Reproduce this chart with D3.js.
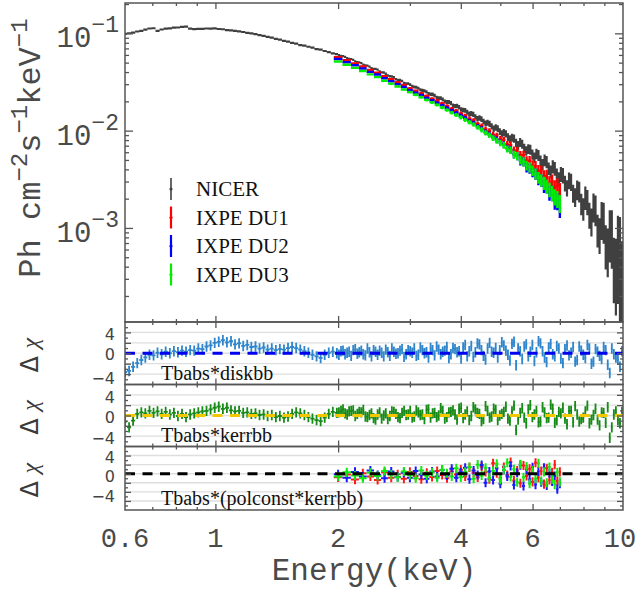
<!DOCTYPE html>
<meta charset="utf-8">
<style>
    body { margin: 0; background: #fff; }
    .frame { fill: none; stroke: #555; stroke-width: 1.5px; }
    .tick line { stroke: #555; stroke-width: 1.3px; }
    .mono { font-family: "Liberation Mono", "DejaVu Sans Mono", monospace; fill: #4a4a4a; }
    .serif { font-family: "Liberation Serif", "DejaVu Serif", serif; fill: #111; }
    .rlab { font-family: "DejaVu Sans", "Liberation Sans", sans-serif; fill: #444; font-size: 16px; }
    .grid { stroke: #dedede; stroke-width: 1.4px; }
</style>
<svg id="svg" width="642" height="589"></svg>

<script src="https://d3js.org/d3.v7.min.js"></script>
<script>

// ---- data ----
// NICER, coarse grid over the full band
var nicerE = [0.600,0.614,0.628,0.643,0.658,0.673,0.689,0.705,0.721,0.738,
    0.755,0.773,0.791,0.809,0.828,0.847,0.867,0.887,0.908,0.929,
    0.951,0.973,0.996,1.019,1.043,1.067,1.092,1.117,1.143,1.170,
    1.197,1.225,1.254,1.283,1.313,1.343,1.375,1.407,1.439,1.473,
    1.507,1.542,1.578,1.615,1.653,1.691,1.730,1.771,1.812,1.854,
    1.897,1.941,1.986,2.033,2.080,2.128,2.178,2.229,2.280,2.333,
    2.388,2.443,2.500,2.558,2.618,2.679,2.741,2.805,2.870,2.937,
    3.005,3.075,3.147,3.220,3.295,3.372,3.450,3.530,3.612,3.697,
    3.783,3.871,3.961,4.053,4.147,4.244,4.343,4.444,4.547,4.653,
    4.761,4.872,4.985,5.101,5.220,5.341,5.466,5.593,5.723,5.856,
    5.993,6.132,6.275,6.421,6.571,6.724,6.880,7.040,7.204,7.372,
    7.544,7.719,7.899,8.083,8.271,8.464,8.661,8.862,9.069,9.280,
    9.496,9.717,9.943];

var nicerFlux = [0.0985,0.1002,0.1018,0.1045,0.1058,0.1092,0.1121,0.1128,0.1062,0.1095,
    0.1118,0.1127,0.1142,0.1148,0.1163,0.1172,0.1118,0.1106,0.1112,0.1109,
    0.1121,0.1117,0.1123,0.1108,0.1102,0.1079,0.1072,0.1058,0.1047,0.1032,
    0.1011,0.0998,0.0982,0.0958,0.0943,0.0918,0.0902,0.0878,0.0863,0.0838,
    0.0822,0.0797,0.0784,0.0758,0.0749,0.0728,0.0712,0.0688,0.0681,0.0658,
    0.0642,0.0622,0.0612,0.0588,0.0573,0.0547,0.0534,0.0506,0.0493,0.0468,
    0.0455,0.0432,0.0423,0.0398,0.0384,0.0362,0.0353,0.0331,0.0324,0.0304,
    0.0297,0.0281,0.0273,0.0259,0.0250,0.0237,0.0230,0.0216,0.0210,0.0197,
    0.0192,0.0179,0.0174,0.0163,0.0155,0.0150,0.0139,0.0135,0.0124,0.0121,
    0.0111,0.0108,0.0098,0.0096,0.0086,0.0085,0.0075,0.0076,0.0066,0.0065,
    0.0057,0.0058,0.0049,0.0050,0.0041,0.0043,0.0035,0.0036,0.0029,0.0031,
    0.0023,0.0025,0.0018,0.0021,0.0014,0.0017,0.0010,0.0013,0.00072,0.00098,
    0.00048,0.00075,0.00038];

// fractional 1-sigma errors
var nicerErr = [0.014,0.013,0.012,0.012,0.011,0.011,0.011,0.011,0.011,0.011,
    0.011,0.011,0.011,0.011,0.011,0.011,0.011,0.011,0.011,0.011,
    0.011,0.011,0.011,0.011,0.012,0.012,0.012,0.012,0.012,0.012,
    0.012,0.012,0.013,0.013,0.013,0.013,0.013,0.014,0.014,0.014,
    0.014,0.015,0.015,0.015,0.016,0.016,0.016,0.017,0.017,0.018,
    0.018,0.019,0.019,0.020,0.020,0.021,0.022,0.022,0.023,0.024,
    0.025,0.025,0.026,0.027,0.028,0.029,0.030,0.031,0.032,0.033,
    0.034,0.035,0.037,0.038,0.039,0.041,0.042,0.044,0.046,0.048,
    0.050,0.052,0.054,0.056,0.058,0.061,0.063,0.066,0.069,0.072,
    0.075,0.078,0.082,0.086,0.090,0.094,0.099,0.104,0.109,0.114,
    0.120,0.126,0.133,0.140,0.148,0.156,0.165,0.175,0.185,0.196,
    0.21,0.23,0.25,0.27,0.30,0.33,0.37,0.42,0.48,0.55,
    0.65,0.78,0.92];

// residuals (delta chi) for NICER, Tbabs*diskbb
var diskbbRes = [-3.6,-3.4,-2.6,-1.9,-1.3,-0.8,-0.3,-0.4,0.1,-0.2,
    0.3,0.0,0.4,0.2,0.5,0.3,0.6,0.5,0.9,0.8,
    1.3,1.5,2.0,2.2,2.5,2.1,2.3,1.7,1.9,1.4,
    1.6,1.2,1.3,0.9,1.1,0.7,0.9,0.6,0.8,0.7,
    1.0,1.2,1.0,0.7,0.4,0.1,-0.3,-0.6,-0.9,-0.3,
    0.1,0.3,0.0,0.4,-0.2,0.3,0.6,-0.1,0.5,-0.4,
    0.2,0.6,-0.3,0.1,0.7,-0.5,0.3,0.0,0.8,-0.2,
    0.4,0.9,-0.3,0.6,0.2,1.0,-0.4,0.7,0.3,1.2,
    -0.2,0.8,0.4,1.1,-0.6,1.4,0.2,1.7,-0.5,0.9,
    0.3,1.0,0.6,1.5,-0.3,1.8,-2.3,0.4,1.3,-0.6,
    1.6,0.2,1.9,-0.8,1.1,-0.2,1.4,-1.0,0.8,-0.4,
    1.2,-1.3,0.5,-0.9,0.9,-1.6,0.3,-1.1,0.6,-3.8,
    -0.2,-1.2,0.4];

// residuals for NICER, Tbabs*kerrbb
var kerrbbRes = [-1.2,-2.3,-1.0,0.3,0.6,0.4,0.9,0.5,0.8,0.3,
    0.7,0.2,0.5,-0.1,0.3,-0.3,0.2,0.4,0.6,0.8,
    0.9,1.2,1.5,1.7,1.3,1.5,1.0,0.8,0.9,0.5,
    0.6,0.3,0.4,0.1,0.2,-0.1,0.1,-0.3,-0.1,-0.4,
    -0.2,0.3,0.6,0.4,0.1,-0.3,-0.6,-0.9,-1.1,-0.4,
    0.3,0.7,0.5,0.9,0.4,0.8,1.0,0.3,0.6,-0.2,
    0.1,-0.5,0.2,-0.6,0.4,-0.1,0.7,-0.3,0.5,0.1,
    0.9,-0.2,0.6,0.2,1.1,-0.4,0.5,0.0,0.9,-0.3,
    0.7,0.2,1.3,-0.5,0.8,-0.1,1.2,0.3,-0.7,0.9,
    -0.2,1.1,0.0,0.7,-0.6,0.8,-2.8,0.5,-0.4,1.2,
    -0.3,0.9,-1.2,0.6,-0.4,1.3,-0.9,0.4,-0.6,0.9,
    -1.3,0.2,-0.7,0.8,-1.5,0.1,-0.8,0.6,-1.4,-4.3,
    0.2,-0.9,0.7];

// NICER, extra bins in between above 2 keV
var nicerE2 = [2.009,2.056,2.104,2.153,2.203,2.254,2.306,2.360,2.415,2.471,
    2.529,2.588,2.648,2.710,2.773,2.837,2.903,2.971,3.040,3.111,
    3.183,3.257,3.333,3.411,3.490,3.571,3.654,3.740,3.827,3.916,
    4.007,4.100,4.195,4.293,4.393,4.495,4.600,4.707,4.816,4.928,
    5.043,5.160,5.280,5.403,5.529,5.658,5.789,5.924,6.062,6.203,
    6.348,6.496,6.647,6.802,6.960,7.122,7.288,7.458,7.631,7.809,
    7.991,8.177,8.367,8.562,8.761,8.965,9.174,9.388,9.606,9.830];
var nicerFlux2 = [0.0597,0.0584,0.0556,0.0545,0.0514,0.0503,0.0477,0.0465,0.0439,0.0431,
    0.0407,0.0396,0.0369,0.0361,0.0338,0.0332,0.0309,0.0305,0.0286,0.0280,
    0.0262,0.0257,0.0240,0.0236,0.0219,0.0216,0.0200,0.0197,0.0181,0.0179,
    0.0165,0.0162,0.0148,0.0147,0.0133,0.0132,0.0119,0.0118,0.0105,0.0105,
    0.0093,0.0093,0.0082,0.0083,0.0071,0.0073,0.0062,0.0064,0.0053,0.0056,
    0.0045,0.0048,0.0038,0.0041,0.0032,0.0035,0.0026,0.0030,0.0021,0.0024,
    0.0016,0.0019,0.0012,0.0016,0.00090,0.00125,0.00065,0.00095,0.00045,0.00070];
var nicerErr2 = [0.019,0.020,0.021,0.021,0.022,0.023,0.023,0.024,0.025,0.026,
    0.026,0.027,0.028,0.029,0.030,0.031,0.032,0.033,0.034,0.036,
    0.038,0.039,0.040,0.042,0.043,0.045,0.047,0.049,0.051,0.053,
    0.055,0.057,0.060,0.062,0.065,0.068,0.071,0.074,0.077,0.080,
    0.084,0.088,0.092,0.097,0.102,0.107,0.112,0.117,0.123,0.130,
    0.137,0.144,0.152,0.161,0.170,0.180,0.19,0.20,0.22,0.24,
    0.26,0.29,0.32,0.35,0.40,0.45,0.52,0.60,0.72,0.85];
var diskbbRes2 = [-0.3,0.5,0.1,-0.5,0.8,0.2,-0.2,0.9,-0.6,0.3,
    0.5,-0.6,0.2,0.9,-0.1,0.5,-0.7,0.6,0.1,-0.5,
    1.1,0.0,-0.8,0.6,1.3,-0.2,0.5,-0.9,1.0,0.2,
    -1.0,1.6,0.4,-0.7,1.9,0.6,-1.2,2.0,0.1,-0.8,
    2.1,0.5,-1.4,2.2,0.9,-1.1,1.7,0.3,-1.5,2.3,
    0.4,-1.7,1.8,-0.6,0.9,-1.9,1.5,0.1,-1.6,1.3,
    -0.3,1.6,-2.0,0.8,-0.5,1.2,-2.2,0.9,-0.8,-2.6];
var kerrbbRes2 = [0.6,1.2,0.2,0.9,-0.1,0.7,1.1,-0.3,0.4,-0.8,
    0.6,0.0,-0.7,0.8,0.3,-0.5,0.9,0.2,-0.4,1.0,
    0.1,-0.7,1.2,0.4,-0.3,1.4,-0.6,0.6,1.0,-0.8,
    1.5,0.2,-0.9,1.6,0.5,-1.1,1.8,-0.4,1.3,-0.9,
    0.3,1.7,-1.0,1.9,-0.8,1.4,-1.5,2.0,0.2,-1.3,
    1.6,-0.5,2.1,-1.4,0.7,1.5,-1.7,0.9,1.8,-1.2,
    -0.4,1.9,-0.8,1.3,-1.9,0.5,1.6,-2.3,0.8,-1.5];

var ixpeE = [2.0,2.1,2.2,2.3,2.4,2.5,2.6,2.7,2.8,2.9,
    3.0,3.1,3.2,3.3,3.4,3.5,3.6,3.7,3.8,3.9,
    4.0,4.1,4.2,4.3,4.4,4.5,4.6,4.7,4.8,4.9,
    5.0,5.1,5.2,5.3,5.4,5.5,5.6,5.7,5.8,5.9,
    6.0,6.1,6.2,6.3,6.4,6.5,6.6,6.7,6.8,6.9,7.0];

var du1Flux = [0.0569,0.0529,0.0491,0.0456,0.0421,0.0394,0.0362,0.0337,0.0314,0.0294,
    0.0272,0.0257,0.0241,0.0227,0.0213,0.0203,0.0190,0.0179,0.0168,0.0160,
    0.0149,0.0142,0.0132,0.0127,0.0117,0.0112,0.0103,0.0099,0.0091,0.0089,
    0.0082,0.0080,0.0072,0.0071,0.0063,0.0062,0.0056,0.0056,0.0049,0.0049,
    0.0044,0.0043,0.0039,0.0038,0.0034,0.0034,0.0029,0.0030,0.0026,0.0027,0.0024];

var du2Flux = [0.0545,0.0505,0.0470,0.0435,0.0402,0.0377,0.0346,0.0322,0.0300,0.0281,
    0.0261,0.0245,0.0231,0.0217,0.0204,0.0193,0.0182,0.0171,0.0161,0.0152,
    0.0142,0.0135,0.0126,0.0120,0.0111,0.0105,0.0097,0.0092,0.0085,0.0081,
    0.0076,0.0072,0.0066,0.0064,0.0057,0.0055,0.0049,0.0048,0.0042,0.0041,
    0.0038,0.0036,0.0032,0.0031,0.0027,0.0027,0.0023,0.0023,0.0019,0.0019,0.0016];

var du3Flux = [0.0514,0.0476,0.0442,0.0410,0.0379,0.0355,0.0326,0.0304,0.0284,0.0265,
    0.0249,0.0234,0.0220,0.0207,0.0195,0.0184,0.0173,0.0163,0.0153,0.0145,
    0.0137,0.0129,0.0122,0.0116,0.0108,0.0102,0.0095,0.0090,0.0084,0.0079,
    0.0075,0.0071,0.0065,0.0063,0.0057,0.0055,0.0050,0.0048,0.0044,0.0042,
    0.0039,0.0036,0.0033,0.0031,0.0029,0.0027,0.0025,0.0023,0.0021,0.0020,0.0018];

var ixpeErr = [0.022,0.023,0.024,0.025,0.026,0.027,0.028,0.029,0.030,0.031,
    0.032,0.033,0.035,0.036,0.037,0.039,0.040,0.042,0.044,0.046,
    0.048,0.050,0.052,0.054,0.057,0.060,0.063,0.066,0.069,0.072,
    0.076,0.080,0.084,0.088,0.093,0.098,0.103,0.108,0.114,0.120,
    0.126,0.133,0.140,0.147,0.155,0.163,0.172,0.181,0.190,0.200,0.21];

// residuals for IXPE, Tbabs*(polconst*kerrbb)
var du1Res = [-0.8,-0.2,-1.3,0.1,-0.6,-1.4,0.3,-0.9,-0.1,-1.1,
    0.4,-0.5,-1.2,0.2,-0.7,0.6,-0.3,-1.0,0.5,-0.2,
    0.9,-0.6,1.4,0.2,-0.8,1.6,0.4,-1.2,2.3,0.1,
    -0.9,1.5,-0.3,2.6,-1.5,0.7,-2.1,1.8,-0.5,1.1,
    -1.8,2.4,-0.9,0.6,-2.3,1.2,-1.4,0.3,2.0,-1.6,0.4];
var du2Res = [-0.1,-0.9,0.4,-0.6,0.7,-0.3,-1.0,0.5,-0.7,0.2,
    -0.9,0.6,-0.2,-1.1,0.5,-0.6,0.8,-0.4,1.1,-0.9,
    0.3,1.3,-1.2,0.7,-0.3,1.9,-2.0,0.5,-1.4,1.2,
    -2.2,0.8,-0.6,1.7,-2.5,0.2,1.9,-2.7,0.9,-1.3,
    1.4,-2.4,0.5,-1.9,1.3,-2.6,0.1,-1.7,-0.5,-3.4,-2.2];
var du3Res = [-0.6,0.3,-0.4,-1.0,0.2,-0.5,0.6,-0.2,-0.8,0.5,
    -0.3,-1.0,0.7,-0.4,0.3,-0.9,0.9,0.1,-0.6,1.2,
    -0.8,0.4,1.5,-1.1,2.0,-0.4,1.3,-0.9,0.6,2.2,
    -1.3,0.9,2.4,-0.7,1.0,-1.9,2.1,-0.8,1.6,-2.2,
    0.7,-1.1,2.3,-1.6,0.4,-2.0,1.5,-1.2,-2.4,0.3,-1.8];

var xTickLabels = [0.6, 1, 2, 4, 6, 10];
var legendNames = ["NICER", "IXPE DU1", "IXPE DU2", "IXPE DU3"];
var modelNames = ["Tbabs*diskbb", "Tbabs*kerrbb", "Tbabs*(polconst*kerrbb)"];

// merge the two NICER grids into one sorted set of bins
var nicer = nicerE.map(function(e, i) {
    return {e: e, f: nicerFlux[i], err: nicerErr[i], r1: diskbbRes[i], r2: kerrbbRes[i]};
}).concat(nicerE2.map(function(e, i) {
    return {e: e, f: nicerFlux2[i], err: nicerErr2[i], r1: diskbbRes2[i], r2: kerrbbRes2[i]};
})).sort(function(a, b) { return a.e - b.e; });
function col(key) { return nicer.map(function(d) { return d[key]; }); }
var nE = col("e"), nF = col("f"), nErr = col("err"), nR1 = col("r1"), nR2 = col("r2");

// ---- layout ----
var svg = d3.select("#svg");
var x0 = 125, x1 = 623;
var x = d3.scaleLog().domain([0.6, 10]).range([x0, x1]);
var yMain = d3.scaleLog().domain([1.08e-4, 0.205]).range([322, 3]);

var panels = [
    {top: 322, bottom: 384.5, domain: [-6, 6], line: "#0000ee", name: modelNames[0]},
    {top: 384.5, bottom: 446.5, domain: [-6, 6], line: "#f4c800", name: modelNames[1]},
    {top: 446.5, bottom: 510, domain: [-8, 6], line: "#000", name: modelNames[2]}
];
panels.forEach(function(p) {
    p.y = d3.scaleLinear().domain(p.domain).range([p.bottom, p.top]);
});

var xMajor = [1, 2, 4, 6];
var xMinor = [0.7, 0.8, 0.9, 3, 5, 7, 8, 9];

function binEdges(E) {
    return E.map(function(e, i) {
        var lo = i > 0 ? Math.sqrt(E[i - 1] * e) : e * e / Math.sqrt(e * E[i + 1]);
        var hi = i < E.length - 1 ? Math.sqrt(E[i + 1] * e) : e * e / Math.sqrt(e * E[i - 1]);
        return [lo, hi];
    });
}

// one path of cross-shaped error bars
function errPath(g, E, vals, lo, hi, yScale, color, w) {
    var ed = binEdges(E);
    var d = "";
    E.forEach(function(e, i) {
        var yc = yScale(vals[i]);
        d += "M" + x(ed[i][0]) + "," + yc + "H" + x(ed[i][1]);
        d += "M" + x(e) + "," + yScale(lo[i]) + "V" + yScale(hi[i]);
    });
    g.append("path").attr("d", d).attr("fill", "none")
        .attr("stroke", color).attr("stroke-width", w);
}

function clip(id, top, bottom) {
    svg.append("clipPath").attr("id", id).append("rect")
        .attr("x", x0).attr("y", top).attr("width", x1 - x0).attr("height", bottom - top);
}

function xTicks(top, bottom) {
    [[xMajor, 6], [xMinor, 3]].forEach(function(t) {
        svg.append("g").attr("transform", "translate(0," + top + ")")
            .call(d3.axisBottom(x).tickValues(t[0]).tickSize(t[1]).tickFormat(""))
            .call(function(g) { g.select(".domain").remove(); });
        svg.append("g").attr("transform", "translate(0," + bottom + ")")
            .call(d3.axisBottom(x).tickValues(t[0]).tickSize(-t[1]).tickFormat(""))
            .call(function(g) { g.select(".domain").remove(); });
    });
}

function yTicks(scale, major, minor, lenMaj, lenMin) {
    [[major, lenMaj], [minor, lenMin]].forEach(function(t) {
        svg.append("g").attr("transform", "translate(" + x0 + ",0)")
            .call(d3.axisRight(scale).tickValues(t[0]).tickSize(t[1]).tickFormat(""))
            .call(function(g) { g.select(".domain").remove(); });
        svg.append("g").attr("transform", "translate(" + x1 + ",0)")
            .call(d3.axisLeft(scale).tickValues(t[0]).tickSize(t[1]).tickFormat(""))
            .call(function(g) { g.select(".domain").remove(); });
    });
}

// ---- main spectrum panel ----
clip("clipMain", 3, 322);
var gMain = svg.append("g").attr("clip-path", "url(#clipMain)");

function lowHigh(F, err) {
    return [F.map(function(f, i) { return Math.max(f * (1 - err[i]), 1e-6); }),
            F.map(function(f, i) { return f * (1 + err[i]); })];
}

var nl = lowHigh(nF, nErr);
errPath(gMain, nE, nF, nl[0], nl[1], yMain, "#404040", 2.2);

[[du1Flux, "#ff0000"], [du2Flux, "#0000ff"], [du3Flux, "#00ee00"]].forEach(function(s) {
    var lh = lowHigh(s[0], ixpeErr);
    errPath(gMain, ixpeE, s[0], lh[0], lh[1], yMain, s[1], 2.4);
});

svg.append("rect").attr("class", "frame")
    .attr("x", x0).attr("y", 3).attr("width", x1 - x0).attr("height", 322 - 3);

var decades = [1e-3, 1e-2, 1e-1];
var minorY = [];
[1e-4, 1e-3, 1e-2, 1e-1].forEach(function(d) {
    for (var k = 2; k <= 9; k++) if (d * k < 0.205 && d * k > 1.08e-4) minorY.push(d * k);
});
yTicks(yMain, decades, minorY, 8, 4);
xTicks(3, 322);

// decade labels 10^-n
var expo = ["\u22123", "\u22122", "\u22121"];
decades.forEach(function(v, i) {
    var t = svg.append("text").attr("class", "mono")
        .attr("x", 119).attr("y", yMain(v) + 14).attr("text-anchor", "end");
    t.append("tspan").attr("font-size", 29).text("10");
    t.append("tspan").attr("font-size", 23).attr("dy", -15).text(expo[i]);
});

// y title
var yt = svg.append("text").attr("class", "mono")
    .attr("transform", "translate(40,148) rotate(-90)")
    .attr("text-anchor", "middle").attr("font-size", 32);
yt.append("tspan").text("Ph cm");
yt.append("tspan").attr("font-size", 24).attr("dy", -13).text("\u22122");
yt.append("tspan").attr("dy", 13).text("s");
yt.append("tspan").attr("font-size", 24).attr("dy", -13).text("\u22121");
yt.append("tspan").attr("dy", 13).text("keV");
yt.append("tspan").attr("font-size", 24).attr("dy", -13).text("\u22121");

// legend
var legColors = ["#404040", "#ff0000", "#0000ff", "#00ee00"];
legendNames.forEach(function(n, i) {
    var yy = 189 + i * 28.5;
    svg.append("line").attr("x1", 171).attr("x2", 171)
        .attr("y1", yy - 11).attr("y2", yy + 11)
        .attr("stroke", legColors[i]).attr("stroke-width", i ? 2.2 : 1.6);
    svg.append("circle").attr("cx", 171).attr("cy", yy).attr("r", 1.6).attr("fill", legColors[i]);
    svg.append("text").attr("class", "serif").attr("x", 196).attr("y", yy + 7)
        .attr("font-size", 21).text(n);
});

// ---- residual panels ----
var resSets = [
    [[nE, nR1, "#2f86cc", 1.8]],
    [[nE, nR2, "#178a17", 1.8]],
    [[ixpeE, du1Res, "#ff1a1a", 2], [ixpeE, du2Res, "#1a1aff", 2], [ixpeE, du3Res, "#10e810", 2]]
];
var labelShift = [[2, 1, 3.5], [2.5, 1, 1.5], [1.5, 2.5, 4]];

panels.forEach(function(p, pi) {
    var grid = d3.range(p.domain[0] + 2, p.domain[1], 2);
    svg.selectAll(null).data(grid).enter().append("line").attr("class", "grid")
        .attr("x1", x0).attr("x2", x1)
        .attr("y1", function(d) { return p.y(d); })
        .attr("y2", function(d) { return p.y(d); });

    clip("clipP" + pi, p.top, p.bottom);
    var g = svg.append("g").attr("clip-path", "url(#clipP" + pi + ")");
    resSets[pi].forEach(function(s) {
        var lo = s[1].map(function(v) { return v - 1; });
        var hi = s[1].map(function(v) { return v + 1; });
        errPath(g, s[0], s[1], lo, hi, p.y, s[2], s[3]);
    });

    g.append("line").attr("x1", x0).attr("x2", x1)
        .attr("y1", p.y(0)).attr("y2", p.y(0))
        .attr("stroke", p.line).attr("stroke-width", 3)
        .attr("stroke-dasharray", "10,7.5");

    svg.append("rect").attr("class", "frame")
        .attr("x", x0).attr("y", p.top).attr("width", x1 - x0).attr("height", p.bottom - p.top);

    var maj = d3.range(p.domain[0] + 2, p.domain[1], 2);
    var mnr = d3.range(p.domain[0] + 1, p.domain[1], 2);
    yTicks(p.y, maj, mnr, 6, 3);
    xTicks(p.top, p.bottom);

    [4, 0, -4].forEach(function(v, k) {
        svg.append("text").attr("class", "rlab")
            .attr("x", 115).attr("y", p.y(v) + labelShift[pi][k] + 6).attr("text-anchor", "end")
            .text(v < 0 ? "\u2212" + (-v) : v);
    });

    var dc = svg.append("text")
        .attr("transform", "translate(38," + ((p.top + p.bottom) / 2 + 2) + ") rotate(-90)")
        .attr("text-anchor", "middle").attr("fill", "#3a3a3a").attr("font-size", 24);
    dc.append("tspan").attr("font-family", "DejaVu Sans").text("\u0394 ");
    dc.append("tspan").attr("font-family", "Liberation Serif").attr("font-style", "italic").text("\u03c7");

    svg.append("text").attr("class", "serif").attr("x", 161).attr("y", p.bottom - 5)
        .attr("font-size", 20).text(p.name);
});

// ---- energy axis labels ----
xTickLabels.forEach(function(v) {
    svg.append("text").attr("class", "mono").attr("x", x(v) + (v === 10 ? -3 : 0))
        .attr("y", 547).attr("text-anchor", "middle").attr("font-size", 27).text(v);
});
svg.append("text").attr("class", "mono").attr("x", 374).attr("y", 580)
    .attr("text-anchor", "middle").attr("font-size", 31).text("Energy(keV)");

</script>
